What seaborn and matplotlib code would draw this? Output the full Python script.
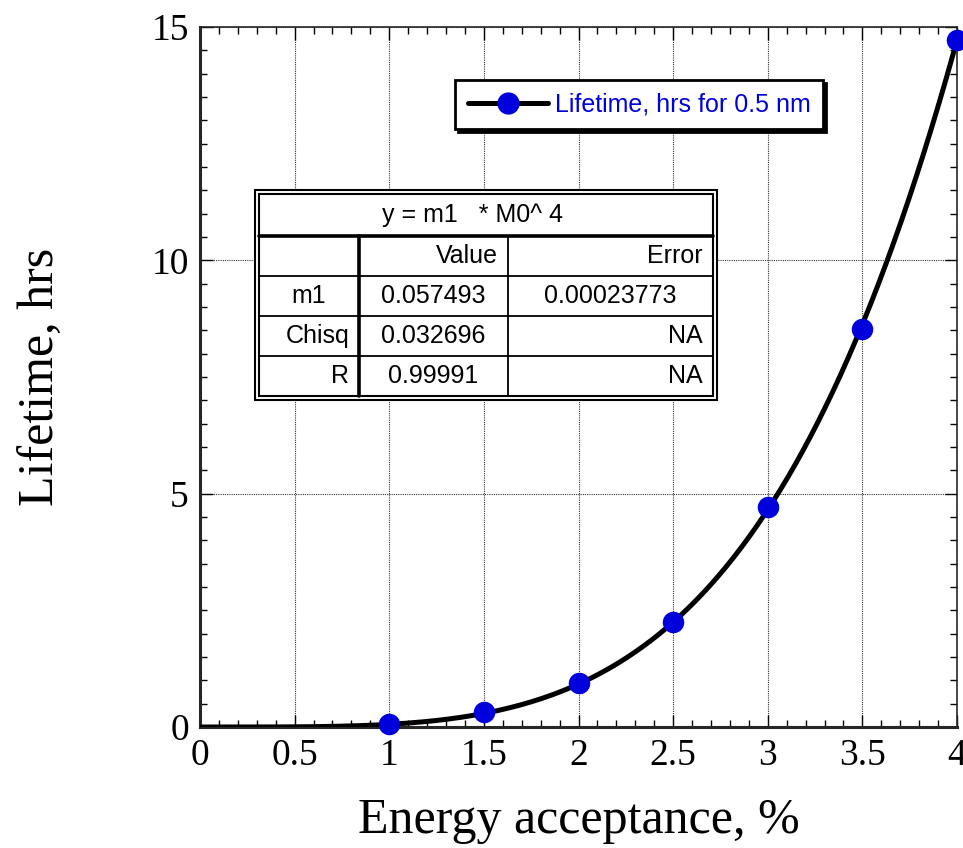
import numpy as np
import matplotlib
matplotlib.use("Agg")
import matplotlib.pyplot as plt
import seaborn as sns
from matplotlib.lines import Line2D
from matplotlib.patches import Rectangle
from matplotlib.ticker import MultipleLocator, FuncFormatter

# measured points
acceptance = [1.0, 1.5, 2.0, 2.5, 3.0, 3.5, 4.0]
lifetime = [0.06, 0.32, 0.95, 2.25, 4.72, 8.52, 14.72]

# fit result shown in the table  (y = m1 * M0^4)
m1 = 0.057493
fit_title = "y = m1   * M0^ 4"
tbl_header = ["", "Value", "Error"]
tbl_rows = [["m1", "0.057493", "0.00023773"],
            ["Chisq", "0.032696", "NA"],
            ["R", "0.99991", "NA"]]
series_label = "Lifetime, hrs for 0.5 nm"

W, H = 963, 848
sns.set_style("ticks")
plt.rcParams['font.family'] = ['Liberation Serif', 'DejaVu Serif']
plt.rcParams['text.color'] = 'black'
plt.rcParams['axes.labelcolor'] = 'black'

fig = plt.figure(figsize=(W / 100, H / 100), dpi=100)
ax = fig.add_axes([200 / W, 1 - 727 / H, 757 / W, 700 / H])

fit_x = np.linspace(0, 4, 300)
fit_y = m1 * fit_x ** 4
sns.lineplot(x=fit_x, y=fit_y, ax=ax, color="black", lw=3.6, zorder=3)
sns.scatterplot(x=acceptance, y=lifetime, ax=ax, color="#0000DD", s=240,
                edgecolor="#0000DD", linewidth=0, zorder=4, clip_on=False)

ax.set_xlim(0, 4)
ax.set_ylim(0, 15)
ax.xaxis.set_major_locator(MultipleLocator(0.5))
ax.xaxis.set_minor_locator(MultipleLocator(0.1))
ax.yaxis.set_major_locator(MultipleLocator(5))
ax.yaxis.set_minor_locator(MultipleLocator(0.5))
ax.xaxis.set_major_formatter(FuncFormatter(lambda v, p: f"{v:g}"))
ax.tick_params(which="both", direction="in", top=True, right=True, colors="black")
ax.tick_params(which="major", length=9, width=1, labelsize=27, pad=8)
ax.tick_params(which="minor", length=5, width=1)
ax.grid(True, which="major", ls=(0, (1, 1)), lw=0.8, color="#333333", zorder=1)
for side in ["left", "bottom"]:
    ax.spines[side].set_linewidth(2.2)
for side in ["top", "right"]:
    ax.spines[side].set_linewidth(1.2)
    ax.spines[side].set_visible(True)

ax.set_xlabel("Energy acceptance, %", fontsize=36, labelpad=18)
ax.set_ylabel("Lifetime, hrs", fontsize=36, labelpad=62)

# legend
handle = Line2D([], [], color="black", lw=3.6, marker="o", markersize=15,
                markerfacecolor="#0000DD", markeredgecolor="#0000DD")
leg = ax.legend([handle], [series_label], loc="upper left",
                bbox_to_anchor=(455 / W, 1 - 80 / H), bbox_transform=fig.transFigure,
                fancybox=False, shadow={"color": "black", "alpha": 1},
                framealpha=1, edgecolor="black", labelcolor="#0000DD",
                prop={"family": "Liberation Sans", "size": 18},
                handlelength=3.2, borderpad=0.5, borderaxespad=0, handletextpad=0.3)
leg.get_frame().set_linewidth(2)

# fit table (pixel layout converted to figure fraction)
def px(x, y):
    return x / W, 1 - y / H

tfont = {"family": "Liberation Sans", "size": 18, "color": "black"}
x0, x1 = 255, 717
y0, y1 = 190, 400
fig.patches.append(Rectangle(px(x0, y1), (x1 - x0) / W, (y1 - y0) / H,
                             transform=fig.transFigure, fc="white", ec="black", lw=1.5, zorder=5))
fig.patches.append(Rectangle(px(x0 + 4, y1 - 4), (x1 - x0 - 8) / W, (y1 - y0 - 8) / H,
                             transform=fig.transFigure, fc="none", ec="black", lw=1.5, zorder=6))
row_edges = [194, 236, 276, 316, 356, 396]
col_edges = [259, 359, 508, 713]

def hline(y, xa, xb, lw=1.3):
    fig.add_artist(Line2D([xa / W, xb / W], [1 - y / H, 1 - y / H], color="black", lw=lw, zorder=7))

def vline(x, ya, yb, lw=1.3):
    fig.add_artist(Line2D([x / W, x / W], [1 - ya / H, 1 - yb / H], color="black", lw=lw, zorder=7))

hline(row_edges[1], col_edges[0], col_edges[-1], lw=2.6)
for y in row_edges[2:-1]:
    hline(y, col_edges[0], col_edges[-1])
vline(col_edges[1], row_edges[1], row_edges[-1], lw=2.6)
vline(col_edges[2], row_edges[1], row_edges[-1])

fig.text(*px(472, (row_edges[0] + row_edges[1]) / 2),
         fit_title, ha="center", va="center", zorder=8, **tfont)
rows = [tbl_header] + tbl_rows
for i, row in enumerate(rows):
    yc = (row_edges[i + 1] + row_edges[i + 2]) / 2
    for j, cell in enumerate(row):
        if not cell:
            continue
        if (j == 0 and cell != "m1") or i == 0 or cell == "NA":
            xr = col_edges[j + 1] - 10
            fig.text(*px(xr, yc), cell, ha="right", va="center", zorder=8, **tfont)
        else:
            xc = (col_edges[j] + col_edges[j + 1]) / 2
            fig.text(*px(xc, yc), cell, ha="center", va="center", zorder=8, **tfont)

fig.savefig("out.png", dpi=100)
